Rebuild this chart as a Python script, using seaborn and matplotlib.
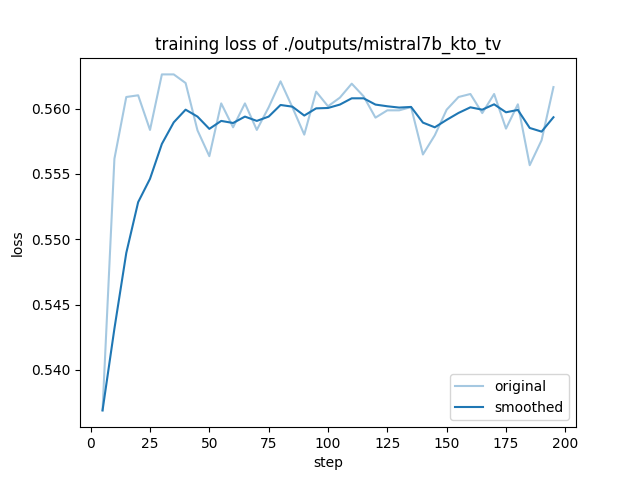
import pandas as pd
import seaborn as sns
import matplotlib
matplotlib.use("Agg")
import matplotlib.pyplot as plt

steps = list(range(5, 200, 5))
original = [0.53690, 0.55616, 0.56089, 0.56102, 0.55837, 0.56262, 0.56262, 0.56196, 0.55834, 0.55636,
            0.56040, 0.55857, 0.56040, 0.55837, 0.56010, 0.56209, 0.56010, 0.55801, 0.56130, 0.56018,
            0.56084, 0.56191, 0.56094, 0.55931, 0.55987, 0.55987, 0.56012, 0.55649, 0.55796, 0.55992,
            0.56089, 0.56112, 0.55966, 0.56112, 0.55847, 0.56033, 0.55567, 0.55758, 0.56165]
smoothed = [0.53690, 0.54316, 0.54895, 0.55284, 0.55463, 0.55730, 0.55895, 0.55992, 0.55939, 0.55845,
            0.55906, 0.55890, 0.55939, 0.55906, 0.55939, 0.56028, 0.56015, 0.55947, 0.56002, 0.56005,
            0.56031, 0.56079, 0.56079, 0.56031, 0.56018, 0.56008, 0.56013, 0.55893, 0.55857, 0.55914,
            0.55967, 0.56010, 0.55992, 0.56033, 0.55972, 0.55990, 0.55852, 0.55824, 0.55934]

df = pd.DataFrame({"step": steps, "original": original, "smoothed": smoothed})

fig, ax = plt.subplots(figsize=(6.4, 4.8), dpi=100)
sns.lineplot(data=df, x="step", y="original", color="#1f77b4", alpha=0.4, label="original", ax=ax)
sns.lineplot(data=df, x="step", y="smoothed", color="#1f77b4", label="smoothed", ax=ax)
ax.set_title("training loss of ./outputs/mistral7b_kto_tv")
ax.set_xlabel("step")
ax.set_ylabel("loss")
ax.legend(loc="lower right")
plt.savefig("out.png", dpi=100)
